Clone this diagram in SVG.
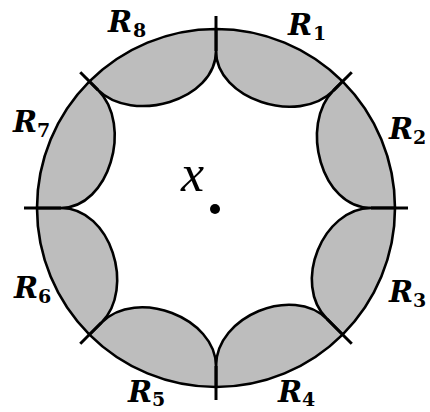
<svg xmlns="http://www.w3.org/2000/svg" width="430" height="412" viewBox="0 0 430 412">
<style>
.reg{fill:#bdbdbd;stroke:#000;stroke-width:2.6;stroke-linejoin:round}
.tick{stroke:#000;stroke-width:3;stroke-linecap:butt}
.lab{font-family:'DejaVu Serif',serif;font-weight:bold;font-style:italic;font-size:29px;fill:#000}
.sub{font-style:normal;font-size:19px}
</style>
<rect width="430" height="412" fill="#fff"/>
<g id="regions">
<path id="region-R1" class="reg" d="M216,29 A179,179 0 0 1 342.57,81.43 L333.38,90.62 C298.02,125.98 216,99 216,51 Z"/>
<path id="region-R2" class="reg" d="M342.57,81.43 A179,179 0 0 1 395,208 L371,208 C321,208 299.44,124.56 333.38,90.62 Z"/>
<path id="region-R3" class="reg" d="M395,208 A179,179 0 0 1 342.57,334.57 L327.02,319.02 C291.66,283.66 323,208 371,208 Z"/>
<path id="region-R4" class="reg" d="M342.57,334.57 A179,179 0 0 1 216,387 L216,366 C216,316 293.08,285.08 327.02,319.02 Z"/>
<path id="region-R5" class="reg" d="M216,387 A179,179 0 0 1 89.43,334.57 L101.45,322.55 C136.81,287.19 216,318 216,366 Z"/>
<path id="region-R6" class="reg" d="M89.43,334.57 A179,179 0 0 1 37,208 L61,208 C111,208 135.39,288.61 101.45,322.55 Z"/>
<path id="region-R7" class="reg" d="M37,208 A179,179 0 0 1 89.43,81.43 L97.91,89.91 C133.27,125.27 109,208 61,208 Z"/>
<path id="region-R8" class="reg" d="M89.43,81.43 A179,179 0 0 1 216,29 L216,51 C216,101 131.85,123.85 97.91,89.91 Z"/>
</g>
<g id="ticks">
<line class="tick" x1="216" y1="51" x2="216" y2="16"/>
<line class="tick" x1="333.38" y1="90.62" x2="351.76" y2="72.24"/>
<line class="tick" x1="371" y1="208" x2="408" y2="208"/>
<line class="tick" x1="327.02" y1="319.02" x2="351.76" y2="343.76"/>
<line class="tick" x1="216" y1="366" x2="216" y2="400"/>
<line class="tick" x1="101.45" y1="322.55" x2="80.24" y2="343.76"/>
<line class="tick" x1="61" y1="208" x2="24" y2="208"/>
<line class="tick" x1="97.91" y1="89.91" x2="80.24" y2="72.24"/>
</g>
<g id="center">
<circle cx="215" cy="209" r="5" fill="#000"/>
<text x="181" y="191" font-family="'Times New Roman','Liberation Serif',serif" font-style="italic" font-size="52">x</text>
</g>
<g id="labels">
<text class="lab" x="288" y="35">R<tspan class="sub" dx="1" dy="5">1</tspan></text>
<text class="lab" x="389" y="139">R<tspan class="sub" dx="0" dy="5">2</tspan></text>
<text class="lab" x="389" y="302">R<tspan class="sub" dx="0" dy="5">3</tspan></text>
<text class="lab" x="278" y="402">R<tspan class="sub" dx="0" dy="4">4</tspan></text>
<text class="lab" x="128" y="402">R<tspan class="sub" dx="0" dy="4">5</tspan></text>
<text class="lab" x="14" y="298">R<tspan class="sub" dx="0" dy="5">6</tspan></text>
<text class="lab" x="13" y="132">R<tspan class="sub" dx="0" dy="5">7</tspan></text>
<text class="lab" x="108" y="32">R<tspan class="sub" dx="1" dy="5">8</tspan></text>
</g>
</svg>
